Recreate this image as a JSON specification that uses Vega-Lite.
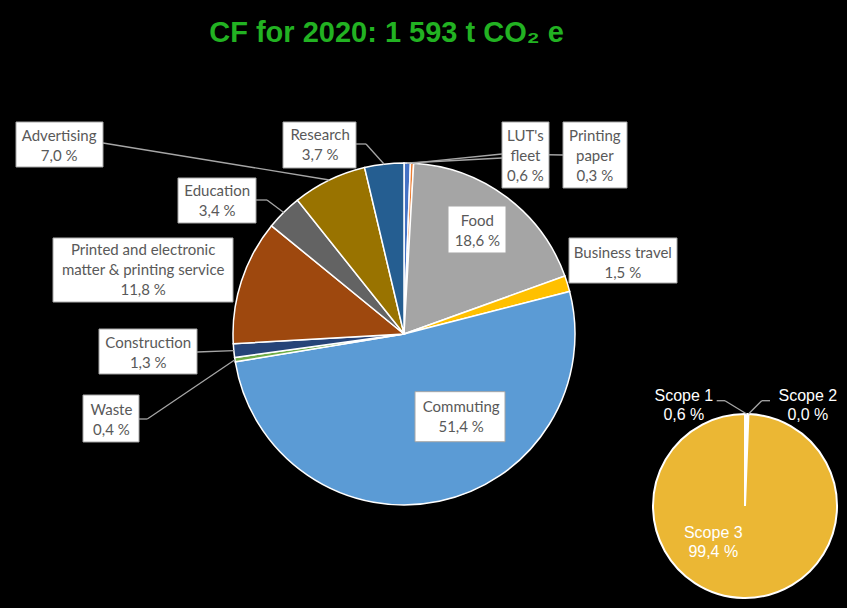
{
  "$schema": "https://vega.github.io/schema/vega-lite/v6.json",
  "width": 847,
  "height": 558,
  "autosize": "none",
  "padding": {"top": 50, "left": 0, "right": 0, "bottom": 0},
  "background": "#000000",
  "title": {"text": "CF for 2020: 1 593 t CO₂ e", "color": "#22B222", "font": "Liberation Sans", "fontSize": 29, "fontWeight": "bold", "anchor": "middle", "frame": "group", "baseline": "alphabetic", "dx": -37, "dy": 28, "offset": 7},
  "config": {
    "view": {"stroke": null},
    "text": {"font": "Lato", "fontSize": 15, "lineHeight": 20, "lineBreak": "\n", "align": "center", "baseline": "middle", "fill": "#595959"},
    "point": {"filled": true, "fill": "#ffffff", "stroke": "#A6A6A6", "strokeWidth": 1, "opacity": 1},
    "rule": {"stroke": "#A6A6A6", "strokeWidth": 1.3}
  },
  "datasets": {
    "main": [
      {"chart": "Main", "idx": 1, "name": "LUT's fleet", "value": 0.6, "label": "LUT's\nfleet\n0,6 %"},
      {"chart": "Main", "idx": 2, "name": "Printing paper", "value": 0.3, "label": "Printing\npaper\n0,3 %"},
      {"chart": "Main", "idx": 3, "name": "Food", "value": 18.6, "label": "Food\n18,6 %"},
      {"chart": "Main", "idx": 4, "name": "Business travel", "value": 1.5, "label": "Business travel\n1,5 %"},
      {"chart": "Main", "idx": 5, "name": "Commuting", "value": 51.4, "label": "Commuting\n51,4 %"},
      {"chart": "Main", "idx": 6, "name": "Waste", "value": 0.4, "label": "Waste\n0,4 %"},
      {"chart": "Main", "idx": 7, "name": "Construction", "value": 1.3, "label": "Construction\n1,3 %"},
      {"chart": "Main", "idx": 8, "name": "Printed and electronic matter & printing service", "value": 11.8, "label": "Printed and electronic\nmatter & printing service\n11,8 %"},
      {"chart": "Main", "idx": 9, "name": "Education", "value": 3.4, "label": "Education\n3,4 %"},
      {"chart": "Main", "idx": 10, "name": "Advertising", "value": 7.0, "label": "Advertising\n7,0 %"},
      {"chart": "Main", "idx": 11, "name": "Research", "value": 3.7, "label": "Research\n3,7 %"}
    ],
    "scope": [
      {"chart": "Scope", "idx": 1, "name": "Scope 1", "value": 0.6, "label": "Scope 1\n0,6 %"},
      {"chart": "Scope", "idx": 2, "name": "Scope 2", "value": 0.0, "label": "Scope 2\n0,0 %"},
      {"chart": "Scope", "idx": 3, "name": "Scope 3", "value": 99.4, "label": "Scope 3\n99,4 %"}
    ]
  },
  "resolve": {"scale": {"theta": "independent", "color": "independent"}},
  "encoding": {
    "x": {"field": "chart", "type": "nominal", "scale": {"type": "point", "domain": ["Main", "Scope"], "range": [404, 745], "padding": 0}, "axis": null},
    "y": {"field": "chart", "type": "nominal", "scale": {"type": "point", "domain": ["Main", "Scope"], "range": [284, 456], "padding": 0}, "axis": null}
  },
  "layer": [
    {
      "data": {"name": "main"},
      "layer": [
        {"mark": {"type": "arc", "outerRadius": 171, "stroke": "#ffffff", "strokeWidth": 1.5},
         "encoding": {
           "theta": {"field": "value", "type": "quantitative", "stack": true},
           "order": {"field": "idx", "type": "quantitative"},
           "color": {"field": "name", "type": "nominal", "legend": null,
             "scale": {"domain": ["LUT's fleet", "Printing paper", "Food", "Business travel", "Commuting", "Waste", "Construction", "Printed and electronic matter & printing service", "Education", "Advertising", "Research"],
                       "range": ["#4472C4", "#ED7D31", "#A5A5A5", "#FFC000", "#5B9BD5", "#70AD47", "#264478", "#9E480E", "#636363", "#997300", "#255E91"]}}}},
        {
          "encoding": {"x2": {"field": "chart"}, "y2": {"field": "chart"}},
          "layer": [
            {"transform": [{"filter": "datum.idx === 10"}], "mark": {"type": "rule", "xOffset": -301, "yOffset": -191, "x2Offset": -74.7, "y2Offset": -154}},
            {"transform": [{"filter": "datum.idx === 11"}], "mark": {"type": "rule", "xOffset": -48, "yOffset": -190, "x2Offset": -38, "y2Offset": -190}},
            {"transform": [{"filter": "datum.idx === 11"}], "mark": {"type": "rule", "xOffset": -38, "yOffset": -190, "x2Offset": -19.8, "y2Offset": -169.8}},
            {"transform": [{"filter": "datum.idx === 9"}], "mark": {"type": "rule", "xOffset": -148, "yOffset": -134, "x2Offset": -137, "y2Offset": -134}},
            {"transform": [{"filter": "datum.idx === 9"}], "mark": {"type": "rule", "xOffset": -137, "yOffset": -134, "x2Offset": -120.3, "y2Offset": -121.5}},
            {"transform": [{"filter": "datum.idx === 1"}], "mark": {"type": "rule", "xOffset": 98, "yOffset": -176, "x2Offset": 3.2, "y2Offset": -171}},
            {"transform": [{"filter": "datum.idx === 2"}], "mark": {"type": "rule", "xOffset": 159, "yOffset": -179, "x2Offset": 98, "y2Offset": -180}},
            {"transform": [{"filter": "datum.idx === 2"}], "mark": {"type": "rule", "xOffset": 98, "yOffset": -180, "x2Offset": 8, "y2Offset": -170.8}},
            {"transform": [{"filter": "datum.idx === 7"}], "mark": {"type": "rule", "xOffset": -207, "yOffset": 18, "x2Offset": -170.2, "y2Offset": 16.6}},
            {"transform": [{"filter": "datum.idx === 6"}], "mark": {"type": "rule", "xOffset": -265, "yOffset": 85, "x2Offset": -256.7, "y2Offset": 85}},
            {"transform": [{"filter": "datum.idx === 6"}], "mark": {"type": "rule", "xOffset": -256.7, "yOffset": 85, "x2Offset": -169.1, "y2Offset": 25.7}}
          ]
        },
        {"transform": [{"filter": "datum.idx === 1"}], "mark": {"type": "point", "shape": "M-1,-1.404H1V1.404H-1Z", "size": 2209, "xOffset": 121.5, "yOffset": -179}},
        {"transform": [{"filter": "datum.idx === 2"}], "mark": {"type": "point", "shape": "M-1,-1.031H1V1.031H-1Z", "size": 4096, "xOffset": 191, "yOffset": -179}},
        {"transform": [{"filter": "datum.idx === 3"}], "mark": {"type": "point", "shape": "M-1,-0.81H1V0.81H-1Z", "size": 3364, "xOffset": 73, "yOffset": -104.5}},
        {"transform": [{"filter": "datum.idx === 4"}], "mark": {"type": "point", "shape": "M-1,-0.417H1V0.417H-1Z", "size": 11664, "xOffset": 219, "yOffset": -73.5}},
        {"transform": [{"filter": "datum.idx === 5"}], "mark": {"type": "point", "shape": "M-1,-0.556H1V0.556H-1Z", "size": 8100, "xOffset": 56, "yOffset": 82.7}},
        {"transform": [{"filter": "datum.idx === 6"}], "mark": {"type": "point", "shape": "M-1,-0.839H1V0.839H-1Z", "size": 3136, "xOffset": -293, "yOffset": 84.5}},
        {"transform": [{"filter": "datum.idx === 7"}], "mark": {"type": "point", "shape": "M-1,-0.459H1V0.459H-1Z", "size": 9604, "xOffset": -256, "yOffset": 17.5}},
        {"transform": [{"filter": "datum.idx === 8"}], "mark": {"type": "point", "shape": "M-1,-0.356H1V0.356H-1Z", "size": 32400, "xOffset": -261, "yOffset": -64}},
        {"transform": [{"filter": "datum.idx === 9"}], "mark": {"type": "point", "shape": "M-1,-0.577H1V0.577H-1Z", "size": 6084, "xOffset": -187, "yOffset": -133.5}},
        {"transform": [{"filter": "datum.idx === 10"}], "mark": {"type": "point", "shape": "M-1,-0.517H1V0.517H-1Z", "size": 7569, "xOffset": -344.5, "yOffset": -189.5}},
        {"transform": [{"filter": "datum.idx === 11"}], "mark": {"type": "point", "shape": "M-1,-0.63H1V0.63H-1Z", "size": 5329, "xOffset": -84.5, "yOffset": -189}},
        {
          "encoding": {
            "theta": {"field": "value", "type": "quantitative", "stack": true},
            "order": {"field": "idx", "type": "quantitative"},
            "detail": {"field": "name", "type": "nominal"}
          },
          "layer": [
            {"mark": {"type": "text", "radius": 180, "dx": 118, "dy": -18}, "encoding": {"text": {"condition": {"test": "datum.idx === 1", "field": "label", "type": "nominal"}, "value": ""}}},
            {"mark": {"type": "text", "radius": 187, "dx": 182, "dy": -11}, "encoding": {"text": {"condition": {"test": "datum.idx === 2", "field": "label", "type": "nominal"}, "value": ""}}},
            {"mark": {"type": "text", "radius": 126, "dx": -2, "dy": -12}, "encoding": {"text": {"condition": {"test": "datum.idx === 3", "field": "label", "type": "nominal"}, "value": ""}}},
            {"mark": {"type": "text", "radius": 230, "dx": -1, "dy": -13}, "encoding": {"text": {"condition": {"test": "datum.idx === 4", "field": "label", "type": "nominal"}, "value": ""}}},
            {"mark": {"type": "text", "radius": 93, "dx": 38, "dy": -18}, "encoding": {"text": {"condition": {"test": "datum.idx === 5", "field": "label", "type": "nominal"}, "value": ""}}},
            {"mark": {"type": "text", "radius": 303, "dx": 7, "dy": 30}, "encoding": {"text": {"condition": {"test": "datum.idx === 6", "field": "label", "type": "nominal"}, "value": ""}}},
            {"mark": {"type": "text", "radius": 257, "dx": 0, "dy": -16}, "encoding": {"text": {"condition": {"test": "datum.idx === 7", "field": "label", "type": "nominal"}, "value": ""}}},
            {"mark": {"type": "text", "radius": 268, "dx": -6, "dy": -1}, "encoding": {"text": {"condition": {"test": "datum.idx === 8", "field": "label", "type": "nominal"}, "value": ""}}},
            {"mark": {"type": "text", "radius": 226, "dx": -28, "dy": 18}, "encoding": {"text": {"condition": {"test": "datum.idx === 9", "field": "label", "type": "nominal"}, "value": ""}}},
            {"mark": {"type": "text", "radius": 320, "dx": -205, "dy": 90}, "encoding": {"text": {"condition": {"test": "datum.idx === 10", "field": "label", "type": "nominal"}, "value": ""}}},
            {"mark": {"type": "text", "radius": 197, "dx": -61, "dy": -3}, "encoding": {"text": {"condition": {"test": "datum.idx === 11", "field": "label", "type": "nominal"}, "value": ""}}}
          ]
        }
      ]
    },
    {
      "data": {"name": "scope"},
      "layer": [
        {"mark": {"type": "arc", "outerRadius": 92, "stroke": "#ffffff", "strokeWidth": 2},
         "encoding": {
           "theta": {"field": "value", "type": "quantitative", "stack": true},
           "order": {"field": "idx", "type": "quantitative"},
           "color": {"field": "name", "type": "nominal", "legend": null,
             "scale": {"domain": ["Scope 1", "Scope 2", "Scope 3"], "range": ["#ffffff", "#ffffff", "#EBB734"]}}}},
        {
          "encoding": {"x2": {"field": "chart"}, "y2": {"field": "chart"}},
          "layer": [
            {"transform": [{"filter": "datum.idx === 1"}], "mark": {"type": "rule", "xOffset": -28.3, "yOffset": -105.3, "x2Offset": -20, "y2Offset": -105.3}},
            {"transform": [{"filter": "datum.idx === 1"}], "mark": {"type": "rule", "xOffset": -20, "yOffset": -105.3, "x2Offset": 1.7, "y2Offset": -92}},
            {"transform": [{"filter": "datum.idx === 2"}], "mark": {"type": "rule", "xOffset": 25, "yOffset": -105.3, "x2Offset": 16.7, "y2Offset": -105.3}},
            {"transform": [{"filter": "datum.idx === 2"}], "mark": {"type": "rule", "xOffset": 16.7, "yOffset": -105.3, "x2Offset": 3.5, "y2Offset": -92}}
          ]
        },
        {
          "encoding": {
            "theta": {"field": "value", "type": "quantitative", "stack": true},
            "order": {"field": "idx", "type": "quantitative"},
            "detail": {"field": "name", "type": "nominal"}
          },
          "layer": [
            {"mark": {"type": "text", "radius": 100, "dx": -63, "dy": -10.5, "fill": "#ffffff", "font": "Liberation Sans", "fontSize": 16, "lineHeight": 19}, "encoding": {"text": {"condition": {"test": "datum.idx === 1", "field": "label", "type": "nominal"}, "value": ""}}},
            {"mark": {"type": "text", "radius": 103, "dx": 59, "dy": -7.5, "fill": "#ffffff", "font": "Liberation Sans", "fontSize": 16, "lineHeight": 19}, "encoding": {"text": {"condition": {"test": "datum.idx === 2", "field": "label", "type": "nominal"}, "value": ""}}},
            {"mark": {"type": "text", "radius": 38, "dx": -31, "dy": -10.5, "fill": "#ffffff", "font": "Liberation Sans", "fontSize": 16, "lineHeight": 19}, "encoding": {"text": {"condition": {"test": "datum.idx === 3", "field": "label", "type": "nominal"}, "value": ""}}}
          ]
        }
      ]
    }
  ]
}
